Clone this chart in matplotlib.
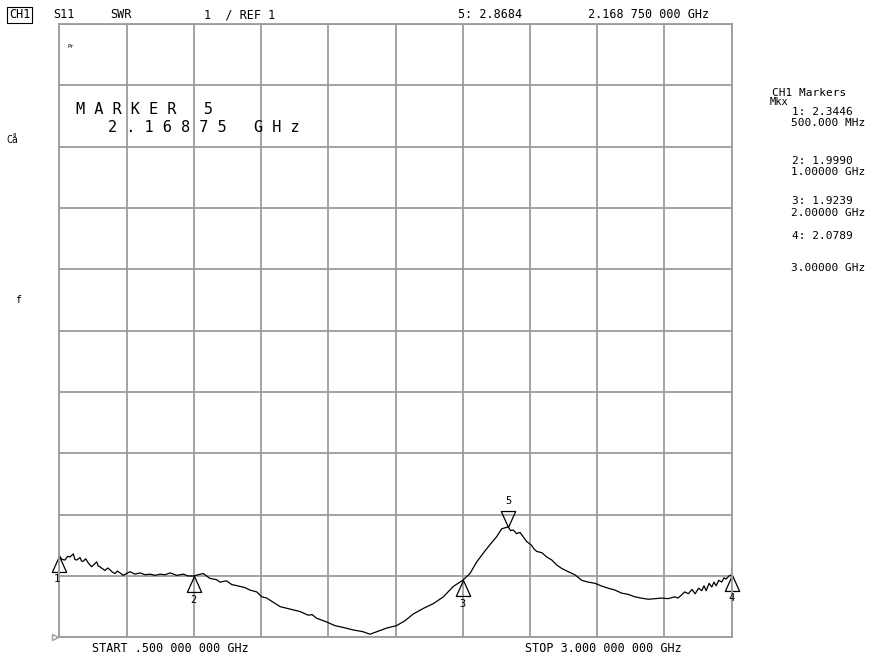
import numpy as np
import matplotlib
matplotlib.use("Agg")
import matplotlib.pyplot as plt
from matplotlib.path import Path

W, H = 869, 655

# S11 SWR trace (GHz, SWR)
freq = [0.500, 0.510, 0.521, 0.531, 0.540, 0.552, 0.558, 0.565, 0.577, 0.583,
        0.589, 0.598, 0.608, 0.614, 0.620, 0.630, 0.639, 0.645, 0.651, 0.660,
        0.670, 0.680, 0.689, 0.698, 0.707, 0.716, 0.726, 0.738, 0.750, 0.763,
        0.781, 0.800, 0.819, 0.837, 0.856, 0.875, 0.893, 0.912, 0.937, 0.961,
        0.979, 1.000, 1.016, 1.035, 1.060, 1.085, 1.097, 1.122, 1.141, 1.172,
        1.190, 1.209, 1.234, 1.253, 1.271, 1.296, 1.321, 1.339, 1.358, 1.395,
        1.426, 1.440, 1.457, 1.494, 1.525, 1.556, 1.593, 1.630, 1.655, 1.680,
        1.717, 1.754, 1.785, 1.816, 1.853, 1.891, 1.928, 1.965, 2.000, 2.027,
        2.052, 2.076, 2.101, 2.126, 2.145, 2.169, 2.178, 2.188, 2.200, 2.213,
        2.238, 2.256, 2.265, 2.275, 2.294, 2.312, 2.331, 2.349, 2.369, 2.392,
        2.417, 2.442, 2.466, 2.492, 2.514, 2.541, 2.566, 2.591, 2.615, 2.640,
        2.663, 2.690, 2.715, 2.740, 2.763, 2.789, 2.800, 2.811, 2.825, 2.839,
        2.852, 2.864, 2.877, 2.889, 2.897, 2.905, 2.916, 2.926, 2.934, 2.942,
        2.952, 2.963, 2.971, 2.979, 2.990, 3.000]
swr = [2.33, 2.27, 2.26, 2.32, 2.31, 2.36, 2.27, 2.26, 2.30, 2.24,
       2.24, 2.28, 2.21, 2.18, 2.15, 2.19, 2.23, 2.16, 2.15, 2.12,
       2.09, 2.13, 2.10, 2.06, 2.04, 2.08, 2.05, 2.01, 2.04, 2.07,
       2.03, 2.05, 2.02, 2.03, 2.01, 2.03, 2.02, 2.05, 2.01, 2.03,
       2.00, 2.00, 2.02, 2.04, 1.96, 1.94, 1.90, 1.92, 1.86, 1.83,
       1.81, 1.77, 1.74, 1.66, 1.64, 1.57, 1.50, 1.48, 1.46, 1.42,
       1.36, 1.37, 1.31, 1.25, 1.19, 1.16, 1.12, 1.09, 1.05, 1.09,
       1.15, 1.19, 1.27, 1.38, 1.47, 1.55, 1.66, 1.83, 1.93, 2.04,
       2.23, 2.37, 2.51, 2.64, 2.77, 2.80, 2.74, 2.75, 2.69, 2.71,
       2.56, 2.50, 2.44, 2.40, 2.38, 2.31, 2.26, 2.18, 2.12, 2.07,
       2.02, 1.93, 1.90, 1.88, 1.84, 1.80, 1.77, 1.72, 1.70, 1.66,
       1.64, 1.62, 1.63, 1.64, 1.63, 1.66, 1.64, 1.68, 1.74, 1.71,
       1.78, 1.71, 1.80, 1.76, 1.84, 1.76, 1.88, 1.82, 1.90, 1.84,
       1.93, 1.90, 1.97, 1.95, 2.00, 2.02]

marker_names = ["1", "2", "3", "4", "5"]
marker_freq = [0.5, 1.0, 2.0, 3.0, 2.16875]
marker_vals = [2.3446, 1.9990, 1.9239, 2.0789, 2.8684]
marker_freq_txt = ["500.000 MHz", "1.00000 GHz", "2.00000 GHz", "3.00000 GHz"]

FONT = "DejaVu Sans Mono"
GRID = "#9c9c9c"


def px(x, y):
    return x / W, 1 - y / H


def label(x, y, s, size=8.5, **kw):
    fig.text(*px(x, y), s, fontsize=size, family=FONT, va="center", **kw)


fig = plt.figure(figsize=(W / 100, H / 100), dpi=100)
ax = fig.add_axes([59.3 / W, 1 - 637.3 / H, (731.7 - 59.3) / W, (637.3 - 24) / H])

ax.set_xlim(0.5, 3.0)
ax.set_ylim(1, 11)
ax.set_xticks(np.linspace(0.5, 3.0, 11))
ax.set_yticks(np.arange(1, 12))
ax.tick_params(length=0, labelbottom=False, labelleft=False)
ax.grid(True, color=GRID, lw=1.3)
for s in ax.spines.values():
    s.set_color(GRID)
    s.set_linewidth(1.3)

ax.plot(freq, swr, color="black", lw=0.9)

# marker triangles, apex sitting on the trace
up = Path([(0, 0), (-0.45, -1), (0.45, -1), (0, 0)])
down = Path([(0, 0), (-0.45, 1), (0.45, 1), (0, 0)])
for name, f in zip(marker_names, marker_freq):
    v = np.interp(f, freq, swr)
    if name == "5":
        ax.plot(f, v, marker=down, ms=23, mfc="none", mec="black", mew=0.9, clip_on=False)
        ax.annotate(name, (f, v), xytext=(0, 19), textcoords="offset points",
                    ha="center", va="center", fontsize=7.5, family=FONT)
    else:
        ax.plot(f, v, marker=up, ms=23, mfc="none", mec="black", mew=0.9, clip_on=False)
        ax.annotate(name, (f, v), xytext=(-2 if name == "1" else 0, -17),
                    textcoords="offset points", ha="center", va="center",
                    fontsize=7.5, family=FONT)

# reference position arrow
ax.plot(0.5 - 0.015, 1, marker=">", ms=5, mfc="none", mec=GRID, clip_on=False)

# header
label(9, 15, "CH1", bbox=dict(boxstyle="square,pad=0.15", fc="white", ec="black", lw=0.8))
label(53, 15, "S11")
label(110, 15, "SWR")
label(204, 15, "1  / REF 1")
label(458, 15, "5: 2.8684")
label(588, 15, "2.168 750 000 GHz")

# left annotations
label(6, 140, "Cå", size=7)
label(15, 300, "f", size=7)

# marker readout in the grid
label(67, 46, "Pr", size=4)
label(76, 110, "M A R K E R   5", size=11)
label(108, 128, "2 . 1 6 8 7 5   G H z", size=11)

# marker table
label(772, 93, "CH1 Markers", size=8)
label(770, 102, "Mkx", size=7.5)
ys = [(112, 123), (161, 172), (201, 213), (236, 268)]
for i, (ya, yb) in enumerate(ys):
    label(792, ya, f"{marker_names[i]}: {marker_vals[i]:.4f}", size=8)
    label(865, yb, marker_freq_txt[i], ha="right", size=8)

# sweep range
label(92, 648, "START .500 000 000 GHz")
label(525, 648, "STOP 3.000 000 000 GHz")

fig.savefig("out.png", dpi=100)
